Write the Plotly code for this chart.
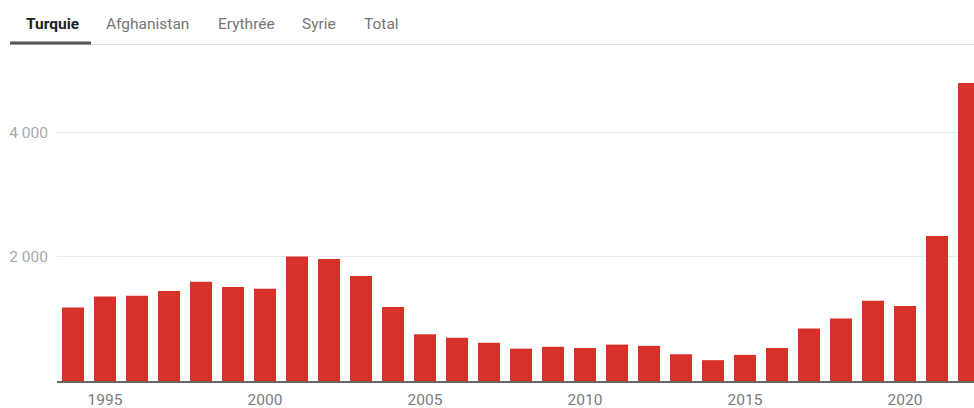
import plotly.graph_objects as go

# Asylum applications by year - Turquie
years = list(range(1994, 2023))
values = [1180, 1360, 1370, 1445, 1595, 1510, 1485, 2000, 1960, 1690,
          1190, 750, 695, 615, 520, 550, 530, 585, 565, 430,
          335, 420, 530, 845, 1005, 1290, 1205, 2330, 4790]

x_tick_vals = [1995, 2000, 2005, 2010, 2015, 2020]
y_tick_vals = [2000, 4000]
y_tick_text = ["2 000", "4 000"]

tabs = ["Turquie", "Afghanistan", "Erythrée", "Syrie", "Total"]
tab_left_px = [24, 104, 216, 300, 362]

W, H = 974, 408
ML, MR, MT, MB = 57, 0, 70, 27
plot_w = W - ML - MR
plot_h = H - MT - MB


def px_x(px):
    return (px - ML) / plot_w


def px_y(py):
    return (H - MB - py) / plot_h


FONT = "Roboto, 'Noto Sans', sans-serif"

fig = go.Figure(
    go.Bar(
        x=years,
        y=values,
        marker=dict(color="#d8312a", line=dict(width=0)),
        width=0.69,
        hoverinfo="x+y",
    )
)

annotations = []
for i, (name, lx) in enumerate(zip(tabs, tab_left_px)):
    active = i == 0
    annotations.append(dict(
        text=f"<b>{name}</b>" if active else name,
        xref="paper", yref="paper",
        x=px_x(lx), y=px_y(23.5),
        xanchor="left", yanchor="middle",
        showarrow=False,
        font=dict(family=FONT, size=15.5, color="#212121" if active else "#757575"),
    ))

shapes = [
    # tab bar separator
    dict(type="line", xref="paper", yref="paper",
         x0=px_x(10), x1=px_x(974), y0=px_y(44.5), y1=px_y(44.5),
         line=dict(color="#e0e0e0", width=1)),
    # active tab indicator
    dict(type="rect", xref="paper", yref="paper",
         x0=px_x(10), x1=px_x(91), y0=px_y(44.5), y1=px_y(41.5),
         fillcolor="#555555", line=dict(width=0)),
]

fig.update_layout(
    width=W, height=H,
    margin=dict(l=ML, r=MR, t=MT, b=MB, pad=0),
    paper_bgcolor="white",
    plot_bgcolor="white",
    font=dict(family=FONT, size=15.5, color="#757575"),
    showlegend=False,
    annotations=annotations,
    shapes=shapes,
    xaxis=dict(
        range=[1993.5, 1993.5 + plot_w / 32.0],
        tickvals=x_tick_vals,
        ticktext=[str(v) for v in x_tick_vals],
        showgrid=False,
        zeroline=False,
        showline=True,
        linecolor="#666666",
        linewidth=1.5,
        ticks="",
        ticklabelstandoff=4,
        tickfont=dict(family=FONT, size=15.5, color="#7a7a7a"),
        fixedrange=True,
    ),
    yaxis=dict(
        range=[0, 5000],
        tickvals=y_tick_vals,
        ticktext=y_tick_text,
        showgrid=True,
        gridcolor="#ebebeb",
        gridwidth=1,
        zeroline=False,
        showline=False,
        ticks="",
        ticklabelstandoff=8,
        tickfont=dict(family=FONT, size=15.5, color="#a8a8a8"),
        fixedrange=True,
    ),
)

fig.write_html("out.html", config={"displayModeBar": False})
